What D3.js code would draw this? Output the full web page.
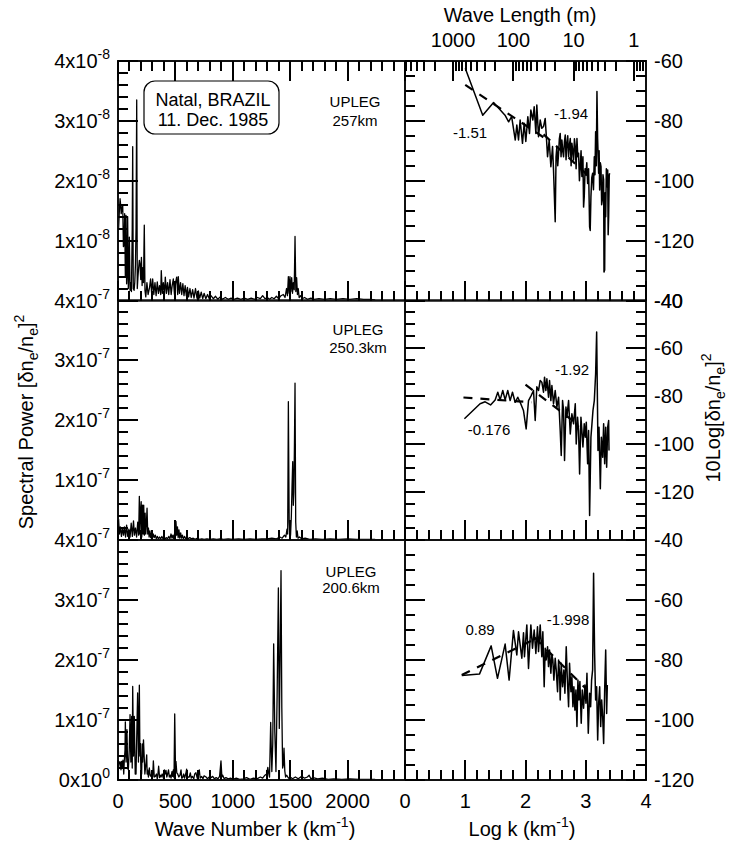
<!DOCTYPE html>
<html>
<head>
<meta charset="utf-8">
<script src="https://cdn.jsdelivr.net/npm/d3@7"></script>
<style>
body { margin: 0; background: #fff; }
svg text { font-family: Arial, "Liberation Sans", Helvetica, sans-serif; fill: #000; }
</style>
</head>
<body>
<div id="chart-area"></div>
<script>
// ---- data ----
// left column: [wave number k (km^-1), spectral power in units of the panel exponent]
const left257 = [
  [5,1.2],[12,1.5],[18,1.7],[23,1.6],[28,1.45],[34,1.55],[41,1.6],[47,0.9],[52,0.92],[58,1.45],[64,0.4],[70,1.42],
  [75,0.28],[81,0.5],[84,1.4],[90,0.2],[96,0.55],[99,1.06],[105,0.17],[111,0.3],[117,0.15],[124,1.2],[128,2.57],
  [133,0.2],[140,0.17],[146,0.3],[152,0.6],[157,1.2],[163,3.35],[168,0.2],[174,0.4],[180,0.55],[186,0.67],[192,0.6],
  [198,0.35],[204,0.72],[210,0.25],[216,0.55],[222,0.3],[229,1.26],[235,0.17],[242,0.06],[252,0.3],[262,0.1],
  [275,0.22],[284,0.36],[293,0.12],[302,0.36],[312,0.1],[322,0.3],[332,0.08],[342,0.31],[352,0.12],[362,0.25],
  [372,0.1],[377,0.5],[386,0.12],[395,0.3],[405,0.1],[412,0.39],[422,0.12],[432,0.3],[442,0.1],[453,0.35],
  [463,0.1],[472,0.25],[482,0.36],[492,0.1],[502,0.3],[511,0.39],[520,0.1],[525,0.4],[535,0.12],[545,0.3],
  [555,0.1],[565,0.28],[575,0.08],[585,0.25],[595,0.08],[605,0.22],[615,0.06],[627,0.2],[638,0.05],[650,0.18],
  [662,0.04],[675,0.2],[688,0.04],[700,0.16],[712,0.04],[725,0.14],[738,0.03],[750,0.12],[765,0.03],[780,0.1],
  [795,0.03],[810,0.08],[830,0.03],[850,0.07],[870,0.02],[890,0.06],[910,0.02],[935,0.05],[960,0.02],[985,0.04],
  [1010,0.02],[1040,0.04],[1070,0.02],[1100,0.04],[1130,0.02],[1160,0.04],[1190,0.02],[1215,0.05],[1240,0.03],
  [1260,0.08],[1280,0.03],[1300,0.05],[1320,0.02],[1340,0.05],[1360,0.03],[1380,0.07],[1400,0.03],[1420,0.08],
  [1440,0.1],[1455,0.05],[1468,0.2],[1476,0.08],[1484,0.4],[1491,0.12],[1498,0.4],[1505,0.15],[1513,0.38],
  [1520,0.12],[1527,0.3],[1535,0.18],[1542,1.07],[1549,0.15],[1556,0.38],[1563,0.1],[1570,0.2],[1578,0.05],
  [1590,0.08],[1605,0.03],[1625,0.05],[1650,0.02],[1680,0.04],[1710,0.02],[1750,0.03],[1800,0.02],[1850,0.03],
  [1900,0.02],[1960,0.03],[2020,0.02],[2080,0.03],[2140,0.02],[2200,0.02],[2240,0.01]
]
const left250 = [
  [5,0.35],[12,0.1],[20,0.22],[30,0.06],[38,0.2],[48,0.08],[56,0.22],[66,0.05],[75,0.25],[85,0.06],[95,0.18],
  [105,0.05],[115,0.28],[125,0.06],[135,0.32],[143,0.08],[152,0.2],[162,0.05],[172,0.3],[180,0.08],[186,0.73],
  [191,0.1],[197,0.5],[202,0.64],[207,0.05],[213,0.58],[219,0.1],[224,0.58],[230,0.08],[236,0.45],[242,0.1],
  [248,0.3],[253,0.53],[259,0.1],[265,0.2],[271,0.05],[278,0.15],[285,0.04],[292,0.12],[300,0.03],[308,0.1],
  [316,0.04],[325,0.08],[334,0.02],[343,0.06],[352,0.02],[362,0.05],[372,0.02],[382,0.06],[392,0.02],[402,0.05],
  [412,0.02],[422,0.04],[432,0.02],[442,0.06],[452,0.02],[462,0.1],[470,0.03],[478,0.08],[486,0.02],[494,0.12],
  [500,0.05],[505,0.31],[511,0.08],[518,0.22],[524,0.04],[531,0.17],[538,0.03],[546,0.12],[553,0.03],[561,0.08],
  [570,0.02],[580,0.06],[590,0.02],[600,0.05],[612,0.02],[625,0.04],[640,0.02],[655,0.03],[672,0.01],[690,0.03],
  [710,0.01],[730,0.02],[750,0.01],[775,0.02],[800,0.01],[830,0.02],[860,0.01],[890,0.02],[920,0.01],[960,0.02],
  [1000,0.01],[1050,0.02],[1100,0.01],[1150,0.02],[1200,0.01],[1250,0.02],[1300,0.02],[1340,0.03],[1380,0.02],
  [1410,0.05],[1430,0.03],[1450,0.08],[1462,0.05],[1472,0.18],[1478,0.1],[1484,2.31],[1491,0.3],[1497,0.05],
  [1503,0.08],[1510,0.4],[1516,0.9],[1522,1.31],[1527,0.58],[1532,0.8],[1537,1.6],[1542,2.62],[1548,0.3],
  [1554,0.05],[1561,0.15],[1568,0.03],[1580,0.05],[1600,0.02],[1630,0.03],[1670,0.01],[1720,0.02],[1780,0.01],
  [1850,0.02],[1920,0.01],[2000,0.02],[2080,0.01],[2160,0.01],[2240,0.01]
]
const left200 = [
  [5,0.2],[12,0.3],[20,0.3],[26,0.17],[32,0.31],[38,0.2],[43,0.33],[50,0.1],[55,0.33],[61,0.5],[64,0.97],[70,0.3],
  [74,0.6],[78,0.84],[84,0.2],[90,0.17],[98,0.5],[105,1.09],[112,0.3],[119,1.06],[124,0.2],[128,1.56],[135,0.4],
  [142,1.06],[150,0.1],[157,0.1],[164,0.8],[171,1.45],[178,0.3],[186,1.58],[191,0.4],[195,0.61],[200,0.1],
  [206,0.1],[211,0.6],[215,0.3],[222,0.67],[229,0.35],[234,0.1],[238,0.17],[245,0.3],[250,0.42],[254,0.1],
  [258,0.17],[265,0.05],[273,0.2],[280,0.08],[287,0.06],[295,0.12],[302,0.05],[308,0.32],[316,0.05],[325,0.06],
  [335,0.1],[342,0.02],[348,0.1],[354,0.23],[362,0.04],[368,0.08],[375,0.05],[385,0.1],[395,0.03],[404,0.17],
  [410,0.1],[418,0.16],[425,0.05],[432,0.1],[440,0.17],[447,0.05],[455,0.08],[462,0.03],[470,0.14],[476,0.06],
  [482,0.17],[488,0.04],[494,1.1],[500,0.3],[505,0.31],[512,0.12],[520,0.1],[530,0.05],[540,0.08],[549,0.17],
  [555,0.03],[563,0.04],[572,0.1],[580,0.03],[590,0.1],[598,0.18],[606,0.04],[614,0.05],[621,0.05],[630,0.12],
  [638,0.03],[648,0.06],[660,0.02],[668,0.1],[679,0.12],[690,0.03],[700,0.08],[708,0.17],[716,0.03],[728,0.06],
  [740,0.02],[750,0.07],[767,0.05],[780,0.02],[795,0.05],[810,0.04],[825,0.06],[840,0.02],[855,0.04],[870,0.02],
  [885,0.06],[897,0.32],[905,0.05],[912,0.08],[925,0.02],[940,0.04],[960,0.02],[980,0.03],[1000,0.01],[1030,0.03],
  [1060,0.01],[1090,0.02],[1120,0.04],[1150,0.01],[1180,0.03],[1210,0.02],[1240,0.05],[1260,0.03],[1280,0.08],
  [1295,0.1],[1305,0.21],[1312,0.12],[1320,0.05],[1330,0.96],[1340,0.14],[1348,0.6],[1356,2.27],[1366,0.8],
  [1376,0.14],[1386,1.4],[1397,3.2],[1405,0.86],[1412,2.0],[1420,3.49],[1427,1.2],[1434,0.2],[1440,0.25],
  [1446,0.53],[1453,0.15],[1460,0.05],[1470,0.08],[1485,0.03],[1500,0.05],[1520,0.02],[1545,0.05],[1570,0.02],
  [1600,0.06],[1625,0.03],[1650,0.05],[1665,0.08],[1680,0.02],[1700,0.04],[1740,0.02],[1780,0.03],[1830,0.01],
  [1880,0.02],[1950,0.01],[2020,0.02],[2100,0.01],[2170,0.01],[2240,0.01]
]

// right column: [log k, 10 log power (dB)]
const right257 = [
  [1.0,-62.4],[1.29,-78.1],[1.47,-73.9],[1.66,-78.1],[1.72,-80.3],[1.77,-78.6],[1.83,-86.4],[1.856,-81.4],
  [1.884,-86.4],[1.911,-79.7],[1.95,-87.5],[1.978,-80.8],[2.005,-86.9],[2.039,-78.6],[2.066,-84.2],[2.089,-76.4],
  [2.122,-79.7],[2.144,-75.3],[2.172,-84.2],[2.188,-74.7],[2.216,-85.3],[2.244,-79.7],[2.271,-82.5],[2.299,-81.9],
  [2.327,-79.2],[2.343,-84.2],[2.366,-92],[2.393,-86.4],[2.421,-95.3],[2.449,-88.6],[2.465,-96.4],[2.493,-113.7],
  [2.507,-92],[2.521,-88.6],[2.535,-95],[2.549,-90.8],[2.562,-86],[2.576,-84.2],[2.59,-92],[2.604,-86.4],
  [2.618,-90],[2.632,-92],[2.646,-87],[2.66,-84.7],[2.673,-93],[2.687,-87.5],[2.701,-85],[2.715,-92],[2.729,-88],
  [2.743,-85.9],[2.757,-95],[2.77,-87.5],[2.784,-90],[2.798,-93.1],[2.812,-86],[2.826,-88.6],[2.84,-96],
  [2.854,-85.9],[2.868,-92],[2.881,-90.8],[2.895,-100],[2.909,-95.3],[2.922,-90],[2.936,-98.6],[2.953,-92],
  [2.964,-108.8],[2.975,-105.3],[2.989,-96],[3.003,-98.1],[3.017,-94],[3.031,-100.9],[3.047,-96],[3.064,-115.4],
  [3.074,-116.6],[3.086,-105.3],[3.1,-99],[3.114,-97.5],[3.128,-103],[3.142,-92],[3.153,-98],[3.164,-83.6],
  [3.175,-95],[3.186,-70.2],[3.197,-85.9],[3.214,-97.5],[3.222,-90],[3.231,-103.1],[3.242,-94],[3.253,-95.3],
  [3.264,-108],[3.275,-106.4],[3.286,-98],[3.297,-99.7],[3.303,-130.5],[3.314,-129.8],[3.322,-104],[3.331,-112],
  [3.342,-96],[3.353,-102],[3.364,-96.4],[3.372,-118],[3.38,-112],[3.39,-98],[3.397,-97.5]
]
const right250 = [
  [0.986,-89.4],[1.246,-83.1],[1.33,-82.3],[1.42,-83.6],[1.496,-81.5],[1.54,-78.3],[1.579,-81.5],[1.623,-77.6],
  [1.662,-81.5],[1.706,-77.6],[1.745,-81.8],[1.784,-78.3],[1.828,-82.5],[1.872,-80.4],[1.911,-82.5],[1.966,-85.9],
  [2.011,-93.6],[2.05,-81.8],[2.094,-79.7],[2.133,-77.6],[2.161,-90.1],[2.188,-76],[2.216,-77.6],[2.244,-73.4],
  [2.271,-74.1],[2.299,-78.3],[2.316,-72],[2.338,-77.6],[2.355,-72.7],[2.382,-80.4],[2.399,-73.4],[2.421,-81.8],
  [2.438,-75.5],[2.465,-83.1],[2.493,-77.6],[2.521,-84.5],[2.549,-80.4],[2.576,-94.3],[2.593,-104.7],[2.615,-81.8],
  [2.632,-85.9],[2.648,-106.8],[2.671,-84.5],[2.687,-88.7],[2.715,-81.8],[2.743,-95.7],[2.77,-87.3],[2.798,-91.5],
  [2.826,-83.1],[2.842,-99.9],[2.864,-88.7],[2.881,-94.3],[2.898,-112.4],[2.92,-88.7],[2.936,-94.3],[2.953,-101.2],
  [2.975,-91.5],[2.992,-97.1],[3.009,-90.8],[3.031,-108.2],[3.047,-94.3],[3.064,-129.8],[3.086,-97.1],[3.103,-91.5],
  [3.12,-85.9],[3.142,-81.8],[3.164,-70.6],[3.181,-53.2],[3.192,-77.6],[3.203,-102.6],[3.22,-92.9],[3.242,-118.6],
  [3.259,-97.1],[3.281,-105.4],[3.297,-91.5],[3.314,-108.2],[3.331,-92.9],[3.347,-109.6],[3.364,-92.9],[3.38,-90.1],
  [3.386,-102.6]
]
const right200 = [
  [0.942,-85.2],[1.236,-84.7],[1.43,-75.3],[1.535,-86.1],[1.662,-74.7],[1.728,-86.7],[1.8,-70.2],[1.856,-78.3],
  [1.884,-70.6],[1.939,-79.4],[1.967,-70.9],[1.983,-78.9],[2.022,-68.3],[2.05,-82.8],[2.089,-68.3],[2.116,-76.1],
  [2.144,-70],[2.172,-77.8],[2.199,-68.9],[2.216,-77.2],[2.244,-68.3],[2.271,-78.9],[2.288,-70.6],[2.31,-88.9],
  [2.327,-76.1],[2.343,-80],[2.366,-75.6],[2.382,-82.2],[2.399,-76.7],[2.421,-84.4],[2.438,-78.3],[2.454,-80],
  [2.471,-86.7],[2.493,-79.4],[2.51,-83.3],[2.532,-90.6],[2.549,-80],[2.565,-84.4],[2.576,-93.3],[2.593,-81.1],
  [2.615,-88.9],[2.637,-83.3],[2.654,-91.1],[2.676,-75.6],[2.693,-85.6],[2.715,-95.6],[2.731,-81.1],[2.754,-90.6],
  [2.77,-85.6],[2.787,-95.6],[2.803,-88.9],[2.82,-96.7],[2.837,-90],[2.854,-102.2],[2.87,-86.7],[2.887,-93.3],
  [2.903,-87.2],[2.925,-101.1],[2.942,-90],[2.964,-96.1],[2.986,-88.3],[3.003,-94.4],[3.02,-84.4],[3.042,-104.4],
  [3.064,-91.1],[3.081,-95.6],[3.097,-86.7],[3.114,-83.3],[3.13,-51.1],[3.147,-77.8],[3.164,-93.3],[3.181,-88.9],
  [3.198,-106.7],[3.214,-94.4],[3.231,-88.9],[3.248,-102.2],[3.264,-93.3],[3.281,-98.9],[3.297,-107.8],
  [3.314,-90],[3.331,-76.7],[3.347,-97.8],[3.358,-88.3]
]

// power-law fits drawn dashed, [log k, dB] end points
const fits257 = [[[1.0,-68],[2.3,-85.5]], [[2.3,-84.5],[3.05,-98.5]]]
const fits250 = [[[0.97,-80.5],[2.1,-82.5]], [[2.0,-75.1],[2.9,-92.4]]]
const fits200 = [[[0.942,-85],[2.13,-73.3]], [[2.15,-72.5],[3.0,-89.5]]]

const slopeLabels = [['-1.51','-1.94'], ['-0.176','-1.92'], ['0.89','-1.998']]
const heights = ['257km', '250.3km', '200.6km']
const powerExp = ['-8', '-7', '-7']
const dbDomains = [[-140,-60], [-140,-40], [-120,-40]]
const leftTicks = [4, 3, 2, 1]
const kTicks = [0, 500, 1000, 1500, 2000]
const logkTicks = [0, 1, 2, 3, 4]
const waveLengths = [1000, 100, 10, 1]   // metres

// ---- layout ----
const width = 731, height = 846
const x0 = 118, xm = 405, x1 = 646
const rowY = [61, 300.5, 540, 780]

const svg = d3.select('#chart-area').append('svg')
  .attr('width', width).attr('height', height)
svg.append('rect').attr('width', width).attr('height', height).attr('fill', '#fff')

const xk = d3.scaleLinear().domain([0, 2500]).range([x0, xm])
const xl = d3.scaleLinear().domain([0, 4]).range([xm, x1])
const yLeft = rowY.slice(0, 3).map((t, i) => d3.scaleLinear().domain([0, 4]).range([rowY[i + 1], t]))
const yRight = rowY.slice(0, 3).map((t, i) => d3.scaleLinear().domain(dbDomains[i]).range([rowY[i + 1], t]))

const defs = svg.append('defs')

const panels = [
  { left: left257, right: right257, fits: fits257 },
  { left: left250, right: right250, fits: fits250 },
  { left: left200, right: right200, fits: fits200 }
]

panels.forEach((p, i) => {
  const y0 = rowY[i], y1 = rowY[i + 1]
  const yL = yLeft[i], yR = yRight[i]

  defs.append('clipPath').attr('id', 'cl' + i).append('rect')
    .attr('x', x0).attr('y', y0).attr('width', xm - x0).attr('height', y1 - y0)
  defs.append('clipPath').attr('id', 'cr' + i).append('rect')
    .attr('x', xm).attr('y', y0).attr('width', x1 - xm).attr('height', y1 - y0)

  const lineL = d3.line().x(d => xk(d[0])).y(d => yL(d[1]))
  const lineR = d3.line().x(d => xl(d[0])).y(d => yR(d[1]))
  svg.append('path').datum(p.left).attr('clip-path', `url(#cl${i})`)
    .attr('d', lineL).attr('fill', 'none').attr('stroke', '#000')
    .attr('stroke-width', 1.3).attr('stroke-linejoin', 'round')
  svg.append('path').datum(p.right).attr('clip-path', `url(#cr${i})`)
    .attr('d', lineR).attr('fill', 'none').attr('stroke', '#000')
    .attr('stroke-width', 1.5).attr('stroke-linejoin', 'round')
  p.fits.forEach(f => {
    svg.append('path').datum(f).attr('d', lineR).attr('fill', 'none')
      .attr('stroke', '#000').attr('stroke-width', 2.2).attr('stroke-dasharray', '9,8')
  })

  svg.append('rect').attr('x', x0).attr('y', y0).attr('width', xm - x0).attr('height', y1 - y0)
    .attr('fill', 'none').attr('stroke', '#111').attr('stroke-width', 2)
  svg.append('rect').attr('x', xm).attr('y', y0).attr('width', x1 - xm).attr('height', y1 - y0)
    .attr('fill', 'none').attr('stroke', '#111').attr('stroke-width', 2)
})

// ---- tick marks, built in one list of segments (snapped to whole pixels) ----
const segs = []
const addH = (vals, scale, x, len) => vals.forEach(v => {
  const y = Math.round(scale(v))
  segs.push([x, y, x + len, y])
})
const addV = (vals, scale, y, len) => vals.forEach(v => {
  const x = Math.round(scale(v))
  segs.push([x, y, x, y + len])
})

const fifths = d3.range(0, 21).map(d => d * 0.2)
const hundreds = d3.range(0, 26).map(d => d * 100)
const fiveHundreds = d3.range(0, 6).map(d => d * 500)
for (let i = 0; i < 3; i++) {
  const [lo, hi] = dbDomains[i]
  addH(fifths, yLeft[i], x0, 10)
  addH([0, 1, 2, 3, 4], yLeft[i], x0, 20)
  addV(hundreds, xk, rowY[i + 1], -10)
  addV(fiveHundreds, xk, rowY[i + 1], -20)
  addH(d3.range(lo, hi + 1, 5), yRight[i], xm, 10)
  addH(d3.range(lo, hi + 1, 20), yRight[i], xm, 20)
  addH(d3.range(lo, hi + 1, 5), yRight[i], x1, -10)
  addH(d3.range(lo, hi + 1, 20), yRight[i], x1, -20)
  addV(fifths, xl, rowY[i + 1], -10)
  addV(logkTicks, xl, rowY[i + 1], -20)
}
addV(hundreds, xk, rowY[0], 10)
addV(fiveHundreds, xk, rowY[0], 20)

// wave length axis on top of the upper right panel (k = 2π / λ)
const lamToLogk = lam => Math.log10(2 * Math.PI / (lam / 1000))
const minorLam = []
;[1000, 100, 10, 1, 0.1].forEach(d => {
  d3.range(2, 10).forEach(m => minorLam.push(m * d))
})
addV(minorLam.map(lamToLogk).filter(v => v >= 0 && v <= 4), xl, rowY[0], 10)
addV(waveLengths.map(lamToLogk), xl, rowY[0], 20)

svg.append('g').attr('class', 'ticks')
  .selectAll('line').data(segs).join('line')
  .attr('x1', d => d[0]).attr('y1', d => d[1])
  .attr('x2', d => d[2]).attr('y2', d => d[3])
  .attr('stroke', '#000').attr('stroke-width', 2)
  .attr('shape-rendering', 'crispEdges')

// ---- texts ----
panels.forEach((p, i) => {
  const yL = yLeft[i], yR = yRight[i]
  const [lo, hi] = dbDomains[i]

  const vals = i === 2 ? leftTicks.concat([0]) : leftTicks
  vals.forEach(v => {
    const t = svg.append('text').attr('x', 110).attr('y', yL(v) + 7)
      .attr('text-anchor', 'end').attr('font-size', 20)
    t.append('tspan').text(v + 'x10')
    t.append('tspan').attr('dy', -9).attr('font-size', 14).text(v === 0 ? '0' : powerExp[i])
  })

  const majorR = d3.range(lo, hi + 1, 20)
  const rLabels = i === 2 ? majorR.slice() : majorR.filter(v => v !== lo)
  if (i === 1) rLabels.push(-40)
  rLabels.forEach(v => {
    svg.append('text').attr('x', 654).attr('y', yR(v) + 7)
      .attr('font-size', 20).text(v)
  })

  const cx = [355, 358, 351][i]
  const by = [107, 335, 577][i]
  const dy = [19, 18, 16][i]
  svg.append('text').attr('x', cx).attr('y', by).attr('text-anchor', 'middle')
    .attr('font-size', 15).text('UPLEG')
  svg.append('text').attr('x', cx).attr('y', by + dy).attr('text-anchor', 'middle')
    .attr('font-size', 15).text(heights[i])
})

const slopePos = [[[470,138],[571,119]], [[489,435],[572,375]], [[480,635],[568,625]]]
slopeLabels.forEach((pair, i) => {
  pair.forEach((s, j) => {
    svg.append('text').attr('x', slopePos[i][j][0]).attr('y', slopePos[i][j][1])
      .attr('text-anchor', 'middle').attr('font-size', 15).text(s)
  })
})

waveLengths.forEach(l => {
  svg.append('text').attr('x', xl(lamToLogk(l))).attr('y', 47)
    .attr('text-anchor', 'middle').attr('font-size', 20).text(l)
})
svg.append('text').attr('x', 520).attr('y', 22).attr('text-anchor', 'middle')
  .attr('font-size', 20).text('Wave Length (m)')

kTicks.forEach(v => {
  svg.append('text').attr('x', xk(v)).attr('y', 808).attr('text-anchor', 'middle')
    .attr('font-size', 20).text(v)
})
logkTicks.forEach(v => {
  svg.append('text').attr('x', xl(v)).attr('y', 808).attr('text-anchor', 'middle')
    .attr('font-size', 20).text(v)
})

const xTitle = (x, label) => {
  const t = svg.append('text').attr('x', x).attr('y', 836)
    .attr('text-anchor', 'middle').attr('font-size', 20)
  t.append('tspan').text(label + ' (km')
  t.append('tspan').attr('dy', -9).attr('font-size', 14).text('-1')
  t.append('tspan').attr('dy', 9).text(')')
}
xTitle(255, 'Wave Number k')
xTitle(522, 'Log k')

const yTitle = (x, y, head) => {
  const t = svg.append('text').attr('transform', `translate(${x},${y}) rotate(-90)`)
    .attr('text-anchor', 'middle').attr('font-size', 20)
  t.append('tspan').text(head + '[δn')
  t.append('tspan').attr('dy', 5).attr('font-size', 14).text('e')
  t.append('tspan').attr('dy', -5).text('/n')
  t.append('tspan').attr('dy', 5).attr('font-size', 14).text('e')
  t.append('tspan').attr('dy', -5).text(']')
  t.append('tspan').attr('dy', -9).attr('font-size', 14).text('2')
}
yTitle(33, 422, 'Spectral Power ')
yTitle(720, 418, '10Log')

svg.append('rect').attr('x', 144).attr('y', 81).attr('width', 135).attr('height', 53)
  .attr('rx', 11).attr('fill', '#fff').attr('stroke', '#000').attr('stroke-width', 1.2)
svg.append('text').attr('x', 213).attr('y', 106).attr('text-anchor', 'middle')
  .attr('font-size', 18).text('Natal, BRAZIL')
svg.append('text').attr('x', 213).attr('y', 126).attr('text-anchor', 'middle')
  .attr('font-size', 18).text('11. Dec. 1985')
</script>
</body>
</html>
